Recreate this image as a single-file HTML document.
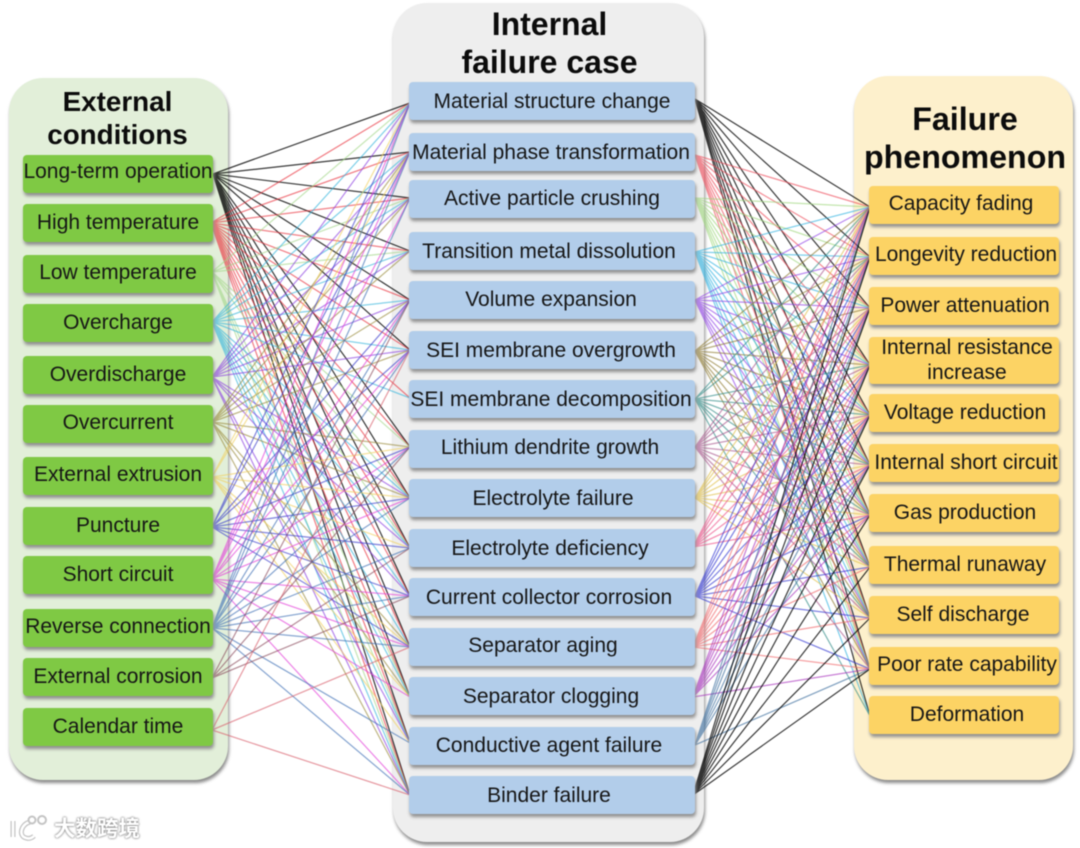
<!DOCTYPE html>
<html><head><meta charset="utf-8"><style>
html,body{margin:0;padding:0;background:#fff}
#w{position:relative;width:1080px;height:848px;overflow:hidden;filter:blur(.4px);font-family:"Liberation Sans",sans-serif;color:#161616}
.p{position:absolute;border-radius:34px;box-shadow:1px 3px 3px #8a8a8a}
.t{position:absolute;font-weight:bold;text-align:center;color:#0c0c0c;line-height:38px;white-space:nowrap}
.n{position:absolute;box-sizing:border-box;display:flex;align-items:center;justify-content:center;text-align:center;border-radius:4px;box-shadow:1px 3px 3px #8f8f8f;font-size:21px;line-height:25px;white-space:nowrap;padding-bottom:2px}
.g{left:23px;width:190px;height:38px;background:#7fc944}
.b{left:409px;width:286px;height:38px;background:#b2cdea}
.y{left:869px;width:190px;height:38px;background:#fcd364}
svg{position:absolute;left:0;top:0}
svg path{fill:none;stroke-width:1.25;stroke-opacity:.62}
svg path.k{stroke-opacity:.78;stroke-width:1.2}
</style></head><body><div id="w">
<div class="p" style="left:9px;top:78px;width:219px;height:702px;background:#e2efd9"></div>
<div class="p" style="left:393px;top:3px;width:311px;height:839px;background:#eeeeee"></div>
<div class="p" style="left:854px;top:76px;width:219px;height:704px;background:#fdf0cc"></div>
<div class="t" style="left:9px;width:217px;top:85px;font-size:27.8px;line-height:33px">External<br>conditions</div>
<div class="t" style="left:394px;width:311px;top:5px;font-size:32px">Internal<br>failure case</div>
<div class="t" style="left:856px;width:218px;top:100px;font-size:32.2px">Failure<br>phenomenon</div>
<svg width="1080" height="848">
<path class="k" stroke="#000" d="M213 174 410 103 213 174 410 152 213 174 410 198 213 174 410 251 213 174 410 300 213 174 410 350 213 174 410 447 213 174 410 498 213 174 410 548 213 174 410 596 213 174 410 647 213 174 410 697 213 174 410 743 213 174 410 795"/>
<path stroke="#e8303c" d="M211 223 410 103 211 223 410 152 211 223 410 198 211 223 410 251 211 223 410 300 211 223 410 350 211 223 410 398 211 223 410 447 211 223 410 498 211 223 410 548 211 223 410 596 211 223 410 647 211 223 410 697 211 223 410 743 211 223 410 795"/>
<path stroke="#a4d68a" d="M212 272 410 103 212 272 410 198 212 272 410 251 212 272 410 447 212 272 410 498 212 272 410 548 212 272 410 697 212 272 410 743 212 272 410 795"/>
<path stroke="#35b4dc" d="M212 322 410 103 212 322 410 152 212 322 410 198 212 322 410 251 212 322 410 300 212 322 410 350 212 322 410 398 212 322 410 498 212 322 410 548 212 322 410 596 212 322 410 647 212 322 410 697 212 322 410 743 212 322 410 795"/>
<path stroke="#8a3fe0" d="M212 377 410 103 212 377 410 152 212 377 410 198 212 377 410 251 212 377 410 300 212 377 410 350 212 377 410 498 212 377 410 548 212 377 410 596 212 377 410 743 212 377 410 795"/>
<path stroke="#9a8a3c" d="M212 422 410 152 212 422 410 198 212 422 410 251 212 422 410 300 212 422 410 350 212 422 410 447 212 422 410 498 212 422 410 647 212 422 410 697 212 422 410 795"/>
<path stroke="#f0d060" d="M212 477 410 103 212 477 410 152 212 477 410 447 212 477 410 498 212 477 410 548 212 477 410 647 212 477 410 697 212 477 410 743"/>
<path stroke="#3a3ccc" d="M212 527 410 103 212 527 410 152 212 527 410 300 212 527 410 350 212 527 410 447 212 527 410 498 212 527 410 548 212 527 410 596 212 527 410 647"/>
<path stroke="#e23ed8" d="M212 579 410 103 212 579 410 152 212 579 410 198 212 579 410 300 212 579 410 350 212 579 410 447 212 579 410 498 212 579 410 596 212 579 410 647 212 579 410 697 212 579 410 795"/>
<path stroke="#3f70b4" d="M212 628 410 103 212 628 410 152 212 628 410 198 212 628 410 300 212 628 410 350 212 628 410 447 212 628 410 498 212 628 410 548 212 628 410 596 212 628 410 647 212 628 410 743 212 628 410 795"/>
<path stroke="#8a4a5c" d="M212 678 410 300 212 678 410 447 212 678 410 548 212 678 410 596"/>
<path stroke="#d8606c" d="M212 730 410 350 212 730 410 647 212 730 410 795"/>

<path class="k" stroke="#000" d="M695 99 870 207 695 99 870 257 695 99 870 308 695 99 870 365 695 99 870 415 695 99 870 465 695 99 870 515 695 99 870 567 695 99 870 618 695 99 870 669 695 99 870 716"/>
<path stroke="#ee4a58" d="M695 155 870 207 695 155 870 257 695 155 870 308 695 155 870 365 695 155 870 415 695 155 870 465 695 155 870 515 695 155 870 567 695 155 870 618 695 155 870 669"/>
<path stroke="#9ed67c" d="M695 198 870 207 695 198 870 257 695 198 870 308 695 198 870 365 695 198 870 415 695 198 870 465 695 198 870 515 695 198 870 567 695 198 870 618 695 198 870 669"/>
<path stroke="#2fb2e0" d="M695 252 870 207 695 252 870 257 695 252 870 308 695 252 870 365 695 252 870 415 695 252 870 465 695 252 870 515 695 252 870 567 695 252 870 618 695 252 870 669 695 252 870 716"/>
<path stroke="#9040e6" d="M695 300 870 207 695 300 870 257 695 300 870 308 695 300 870 365 695 300 870 415 695 300 870 465 695 300 870 515 695 300 870 567 695 300 870 618 695 300 870 669"/>
<path stroke="#8e7a30" d="M695 351 870 207 695 351 870 257 695 351 870 308 695 351 870 365 695 351 870 415 695 351 870 465 695 351 870 515 695 351 870 567 695 351 870 618 695 351 870 669"/>
<path stroke="#2f8a86" d="M695 399 870 207 695 399 870 257 695 399 870 365 695 399 870 415 695 399 870 465 695 399 870 515 695 399 870 567 695 399 870 618 695 399 870 716"/>
<path stroke="#a8568c" d="M695 447 870 207 695 447 870 257 695 447 870 308 695 447 870 365 695 447 870 415 695 447 870 465 695 447 870 515 695 447 870 567 695 447 870 618 695 447 870 669"/>
<path stroke="#e0c04a" d="M695 498 870 207 695 498 870 257 695 498 870 308 695 498 870 365 695 498 870 415 695 498 870 465 695 498 870 515 695 498 870 567 695 498 870 618"/>
<path stroke="#ee4f88" d="M693 547 870 207 693 547 870 257 693 547 870 308 693 547 870 365 693 547 870 415 693 547 870 465 693 547 870 515"/>
<path stroke="#2f34d0" d="M695 596 870 207 695 596 870 257 695 596 870 308 695 596 870 365 695 596 870 415 695 596 870 465 695 596 870 515 695 596 870 567 695 596 870 618 695 596 870 669"/>
<path stroke="#f0686a" d="M693 647 870 207 693 647 870 257 693 647 870 308 693 647 870 365 693 647 870 415 693 647 870 465 693 647 870 515 693 647 870 567 693 647 870 618 693 647 870 669"/>
<path stroke="#a62fbc" d="M693 697 870 207 693 697 870 257 693 697 870 308 693 697 870 365 693 697 870 415 693 697 870 465 693 697 870 515 693 697 870 669"/>
<path stroke="#3a6c9c" d="M695 745 870 207 695 745 870 257 695 745 870 308 695 745 870 365 695 745 870 415 695 745 870 465 695 745 870 669"/>
<path class="k" stroke="#000" d="M693 795 870 207 693 795 870 257 693 795 870 308 693 795 870 365 693 795 870 415 693 795 870 465 693 795 870 515 693 795 870 567 693 795 870 618 693 795 870 669"/>
</svg>

<div class="n g" style="top:155px;padding-bottom:6px">Long-term operation</div>
<div class="n g" style="top:204px;padding-bottom:2px">High temperature</div>
<div class="n g" style="top:255px;padding-bottom:4px">Low temperature</div>
<div class="n g" style="top:304px;padding-bottom:2px">Overcharge</div>
<div class="n g" style="top:356px;padding-bottom:2px">Overdischarge</div>
<div class="n g" style="top:405px;padding-bottom:4px">Overcurrent</div>
<div class="n g" style="top:457px;padding-bottom:4px">External extrusion</div>
<div class="n g" style="top:507px;padding-bottom:2px">Puncture</div>
<div class="n g" style="top:556px;padding-bottom:2px">Short circuit</div>
<div class="n g" style="top:609px;padding-bottom:4px">Reverse connection</div>
<div class="n g" style="top:658px;padding-bottom:2px">External corrosion</div>
<div class="n g" style="top:708px;padding-bottom:2px">Calendar time</div>

<div class="n b" style="top:82px;padding-bottom:0">Material structure change</div>
<div class="n b" style="top:133px;padding:0 2px 0 0">Material phase transformation</div>
<div class="n b" style="top:180px;padding-bottom:2px">Active particle crushing</div>
<div class="n b" style="top:232px;padding:0 6px 0 0">Transition metal dissolution</div>
<div class="n b" style="top:281px;padding:0 2px 2px 0">Volume expansion</div>
<div class="n b" style="top:331px;padding:0 2px 0 0">SEI membrane overgrowth</div>
<div class="n b" style="top:380px;padding:0 2px 0 0">SEI membrane decomposition</div>
<div class="n b" style="top:430px;padding:0 4px 4px 0">Lithium dendrite growth</div>
<div class="n b" style="top:479px;padding:0 0 0 2px">Electrolyte failure</div>
<div class="n b" style="top:529px;padding:0 4px 0 0">Electrolyte deficiency</div>
<div class="n b" style="top:578px;padding:0 6px 0 0">Current collector corrosion</div>
<div class="n b" style="top:628px;padding:0 18px 4px 0">Separator aging</div>
<div class="n b" style="top:677px;padding:0 2px 0 0">Separator clogging</div>
<div class="n b" style="top:727px;padding:0 6px 2px 0">Conductive agent failure</div>
<div class="n b" style="top:776px;padding:0 6px 0 0">Binder failure</div>

<div class="n y" style="top:186px;padding:0 6px 4px 0">Capacity fading</div>
<div class="n y" style="top:237px;padding:0 0 4px 4px">Longevity reduction</div>
<div class="n y" style="top:287px;padding:0 0 2px 2px">Power attenuation</div>
<div class="n y" style="top:337px;height:47px;padding:0 0 2px 6px">Internal resistance<br>increase</div>
<div class="n y" style="top:394px;padding:0 0 2px 2px">Voltage reduction</div>
<div class="n y" style="top:444px;padding:0 0 2px 4px">Internal short circuit</div>
<div class="n y" style="top:494px;padding:0 0 2px 2px">Gas production</div>
<div class="n y" style="top:546px;padding:0 0 2px 2px">Thermal runaway</div>
<div class="n y" style="top:596px;padding:0 2px 2px 0">Self discharge</div>
<div class="n y" style="top:647px;padding:0 0 4px 6px">Poor rate capability</div>
<div class="n y" style="top:696px;padding:0 0 2px 6px">Deformation</div>

<svg width="1080" height="848"><g>
<path style="stroke:#c4c4c4;stroke-width:5;stroke-opacity:1" d="M13 821v16M30 822c-9 2-12 14-4 16 3 1 6 0 8-2"/>
<path style="stroke:#fff;stroke-width:2.5;stroke-opacity:1" d="M13 821v16M30 822c-9 2-12 14-4 16 3 1 6 0 8-2"/>
<circle cx="32" cy="820" r="3.5" fill="none" stroke="#c4c4c4" stroke-width="2"/><circle cx="42" cy="820" r="4" fill="none" stroke="#c4c4c4" stroke-width="2"/></g></svg>
<div style="position:absolute;left:54px;top:817px;font-family:'Liberation Sans','Noto Sans CJK SC',sans-serif;font-size:21.5px;line-height:24px;font-weight:bold;color:#fff;text-shadow:0 0 2px #888,0 0 2px #888;white-space:nowrap">大数跨境</div>
</div></body></html>
